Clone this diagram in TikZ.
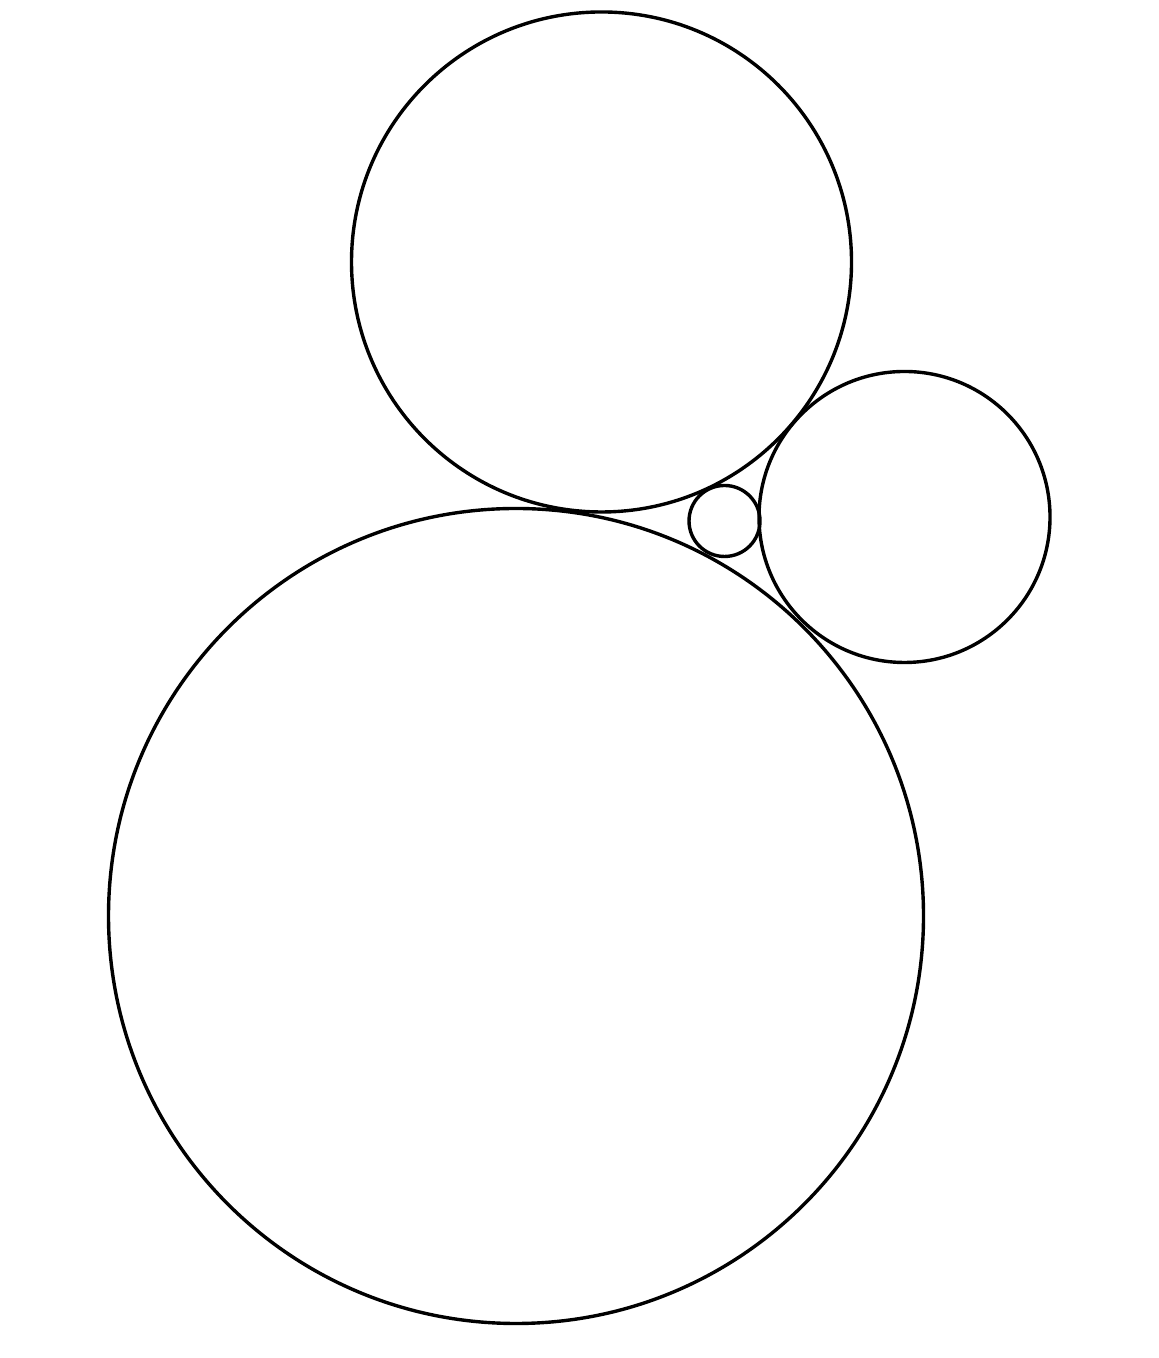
\documentclass[tikz,border=0pt]{standalone}
\usepackage{tikz}
\usetikzlibrary{calc}

\begin{document}
\begin{tikzpicture}
                        \useasboundingbox (0.000000,0.000000) rectangle (11.580000,13.580000);

                        % Drawing circle big
                        \draw [line width=0.034cm] (5.160000,4.420000) circle (4.075000);%

                        % Drawing circle top
                        \draw [line width=0.034cm] (6.015000,10.960000) circle (2.500000);%

                        % Drawing circle right
                        \draw [line width=0.034cm] (9.045000,8.410000) circle (1.455000);%

                        % Drawing circle small
                        \draw [line width=0.034cm] (7.245000,8.370000) circle (0.355000);%
                    \end{tikzpicture}
\end{document}
